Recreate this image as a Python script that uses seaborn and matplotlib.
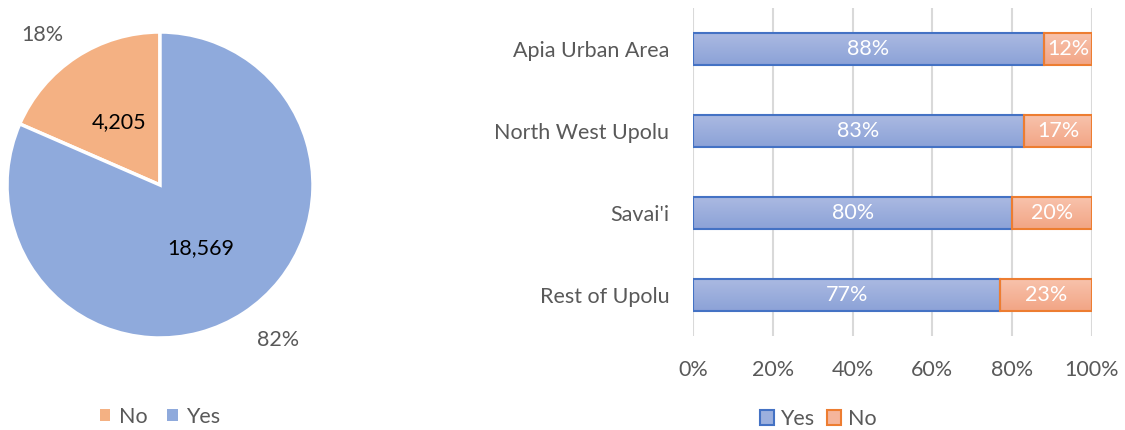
import numpy as np
import pandas as pd
import matplotlib
matplotlib.use("Agg")
import matplotlib.pyplot as plt
from matplotlib.colors import LinearSegmentedColormap
from matplotlib.patches import Patch
import seaborn as sns

# ---- data ----
pie_labels = ["No", "Yes"]
pie_counts = [4205, 18569]

regions = ["Apia Urban Area", "North West Upolu", "Savai'i", "Rest of Upolu"]
yes_pct = [88, 83, 80, 77]
no_pct = [12, 17, 20, 23]
x_ticks = [0, 20, 40, 60, 80, 100]

sns.set_theme(style="white")
plt.rcParams['font.family'] = ['Lato', 'DejaVu Sans']

FS = 15.5
GREY = "#595959"
PIE_YES = "#8faadc"
PIE_NO = "#f4b183"
BAR_YES_EDGE = "#4472c4"
BAR_NO_EDGE = "#ed7d31"

fig = plt.figure(figsize=(11.25, 4.30), dpi=100)

# ---- pie ----
ax1 = fig.add_axes([7 / 1125, (430 - 338) / 430, 306 / 1125, 306 / 430])
total = sum(pie_counts)
wedges, texts, autotexts = ax1.pie(
    pie_counts, colors=[PIE_NO, PIE_YES], startangle=90, counterclock=True,
    labels=[f"{c / total * 100:.0f}%" for c in pie_counts], labeldistance=1.26,
    autopct=lambda p: f"{p * total / 100:,.0f}", pctdistance=0.49,
    wedgeprops=dict(edgecolor="white", linewidth=2.5),
    textprops=dict(fontsize=FS),
)
for t in texts:
    t.set_color(GREY)
    t.set_ha("center")
    t.set_va("center")
for t in autotexts:
    t.set_color("black")
texts[0].set_position((-0.77, 0.98))
texts[1].set_position((0.77, -1.01))
ax1.set_xlim(-1, 1)
ax1.set_ylim(-1, 1)
ax1.set_aspect("equal")

handles = [Patch(facecolor=PIE_NO, edgecolor="none"), Patch(facecolor=PIE_YES, edgecolor="none")]
fig.legend(handles, pie_labels, loc="center", bbox_to_anchor=(160 / 1125, 1 - 417 / 430),
           ncol=2, frameon=False, fontsize=FS, handlelength=0.5, handleheight=0.5,
           handletextpad=0.4, columnspacing=0.9, labelcolor=GREY)

# ---- stacked bars ----
ax2 = fig.add_axes([693 / 1125, (430 - 336) / 430, 399 / 1125, 328 / 430])
df = pd.DataFrame({"region": regions, "Yes": yes_pct, "No": no_pct})
sns.barplot(data=df, y="region", x="Yes", orient="h", ax=ax2, width=0.4,
            color=PIE_YES, edgecolor=BAR_YES_EDGE, linewidth=1.5, saturation=1)
ypos = np.arange(len(regions))
no_bars = ax2.barh(ypos, df["No"], left=df["Yes"], height=0.4,
                   color="#f4b49a", edgecolor=BAR_NO_EDGE, linewidth=1.5)

# gradient fills
def add_gradient(patch, c_top, c_bot):
    cmap = LinearSegmentedColormap.from_list("g", [c_top, c_bot])
    x0, y0 = patch.get_x(), patch.get_y()
    w, h = patch.get_width(), patch.get_height()
    grad = np.linspace(0, 1, 64).reshape(-1, 1)
    im = ax2.imshow(grad, cmap=cmap, aspect="auto", extent=[x0, x0 + w, y0 + h, y0],
                    origin="upper", zorder=patch.get_zorder() - 0.01, interpolation="bilinear")
    im.set_clip_path(patch)
    patch.set_facecolor("none")

yes_patches = list(ax2.patches)[:len(regions)]
for p in yes_patches:
    add_gradient(p, "#abbae2", "#8ca2d7")
for p in no_bars.patches:
    add_gradient(p, "#f8c3ad", "#f2a585")

for i in range(len(regions)):
    ax2.text(yes_pct[i] / 2, i, f"{yes_pct[i]}%", ha="center", va="center",
             color="white", fontsize=FS, zorder=5)
    ax2.text(yes_pct[i] + no_pct[i] / 2, i, f"{no_pct[i]}%", ha="center", va="center",
             color="white", fontsize=FS, zorder=5)

ax2.set_xlim(0, 100)
ax2.set_ylim(len(regions) - 0.5, -0.5)
ax2.set_xticks(x_ticks)
ax2.set_xticklabels([f"{t}%" for t in x_ticks])
ax2.xaxis.grid(True, color="#d9d9d9", linewidth=1.5)
ax2.set_axisbelow(True)
for s in ax2.spines.values():
    s.set_visible(False)
ax2.tick_params(axis="both", length=0, labelsize=FS, labelcolor=GREY)
ax2.tick_params(axis="x", pad=17)
ax2.tick_params(axis="y", pad=17)
ax2.set_xlabel("")
ax2.set_ylabel("")

handles2 = [Patch(facecolor="#9cb0de", edgecolor=BAR_YES_EDGE, linewidth=1.5),
            Patch(facecolor="#f5b59b", edgecolor=BAR_NO_EDGE, linewidth=1.5)]
fig.legend(handles2, ["Yes", "No"], loc="center", bbox_to_anchor=(818 / 1125, 1 - 419 / 430),
           ncol=2, frameon=False, fontsize=FS, handlelength=0.65, handleheight=0.65,
           handletextpad=0.3, columnspacing=0.6, labelcolor=GREY)

fig.savefig("out.png", dpi=100)
